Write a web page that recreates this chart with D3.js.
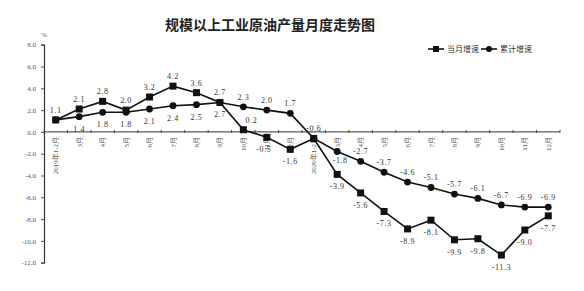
<!DOCTYPE html>
<html>
<head>
<meta charset="utf-8">
<script src="https://cdn.jsdelivr.net/npm/d3@7"></script>
<style>
  body { margin: 0; background: #fff; }
  svg { display: block; }
  text { font-family: "Liberation Serif", "Noto Sans CJK SC", serif; fill: #333; }
</style>
</head>
<body>
<div id="chart"></div>
<script>
// Data
const categories = ["2019年1-2月", "3月", "4月", "5月", "6月", "7月", "8月", "9月", "10月", "11月", "12月",
    "2020年1-2月", "3月", "4月", "5月", "6月", "7月", "8月", "9月", "10月", "11月", "12月"]
const monthly = [1.1, 2.1, 2.8, 2.0, 3.2, 4.2, 3.6, 2.7, 0.2, -0.5, -1.6,
    -0.6, -3.9, -5.6, -7.3, -8.9, -8.1, -9.9, -9.8, -11.3, -9.0, -7.7]
const cumulative = [1.1, 1.4, 1.8, 1.8, 2.1, 2.4, 2.5, 2.7, 2.3, 2.0, 1.7,
    -0.6, -1.8, -2.7, -3.7, -4.6, -5.1, -5.7, -6.1, -6.7, -6.9, -6.9]
const yTicks = [8, 6, 4, 2, 0, -2, -4, -6, -8, -10, -12]
const seriesNames = ["当月增速", "累计增速"]

const width = 584, height = 291
const svg = d3.select("#chart").append("svg")
    .attr("width", width)
    .attr("height", height)

// Scales
const xScale = d3.scaleBand()
    .domain(d3.range(categories.length))
    .range([44, 560])
const cx = i => xScale(i) + xScale.bandwidth() / 2

const yScale = d3.scaleLinear()
    .domain([-12, 8])
    .range([262.7, 44.7])

// Title
svg.append("text")
    .attr("x", 270)
    .attr("y", 30)
    .attr("text-anchor", "middle")
    .style("font-family", "'Noto Sans CJK SC', sans-serif")
    .style("font-weight", 700)
    .style("font-size", "14px")
    .style("fill", "#222")
    .text("规模以上工业原油产量月度走势图")

// Y axis
const yAxis = svg.append("g")
    .attr("transform", "translate(44,0)")
    .call(d3.axisLeft(yScale).tickValues(yTicks).tickSize(3).tickFormat(d3.format(".1f")))
yAxis.select(".domain").attr("stroke", "#333").attr("stroke-width", 1.2)
yAxis.selectAll(".tick line").attr("stroke", "#555")
yAxis.selectAll(".tick text")
    .attr("x", -8)
    .style("font-size", "7px")
    .style("fill", "#555")
    .text(d => d3.format(".1f")(d).replace("−", "-"))

svg.append("text")
    .attr("x", 44)
    .attr("y", 37)
    .attr("text-anchor", "middle")
    .style("font-size", "7px")
    .style("fill", "#555")
    .text("%")

// X axis on zero line
const y0 = yScale(0)
const xAxis = svg.append("g")
svg.append("line")
    .attr("x1", 44).attr("x2", 560)
    .attr("y1", y0).attr("y2", y0)
    .attr("stroke", "#333")
    .attr("stroke-width", 1)
xAxis.selectAll("line.xtick")
    .data(d3.range(categories.length + 1))
    .join("line")
        .attr("class", "xtick")
        .attr("x1", i => 44 + i * xScale.step())
        .attr("x2", i => 44 + i * xScale.step())
        .attr("y1", y0 - 2)
        .attr("y2", y0 + 1)
        .attr("stroke", "#555")
xAxis.selectAll("text")
    .data(categories)
    .join("text")
        .attr("transform", (d, i) => `translate(${cx(i) + 2.5},${y0 + 5}) rotate(-90)`)
        .attr("text-anchor", "end")
        .style("font-size", "7px")
        .style("fill", "#555")
        .text(d => d)

// Lines
const line = d3.line()
    .x((d, i) => cx(i))
    .y(d => yScale(d))

svg.append("path")
    .datum(monthly)
    .attr("fill", "none")
    .attr("stroke", "#111")
    .attr("stroke-width", 1.6)
    .attr("d", line)
svg.append("path")
    .datum(cumulative)
    .attr("fill", "none")
    .attr("stroke", "#111")
    .attr("stroke-width", 1.6)
    .attr("d", line)

// Markers
const sq = 7
svg.selectAll("rect.m")
    .data(monthly)
    .join("rect")
        .attr("class", "m")
        .attr("x", (d, i) => cx(i) - sq / 2)
        .attr("y", d => yScale(d) - sq / 2)
        .attr("width", sq)
        .attr("height", sq)
        .attr("fill", "#111")
svg.selectAll("circle.c")
    .data(cumulative)
    .join("circle")
        .attr("class", "c")
        .attr("cx", (d, i) => cx(i))
        .attr("cy", d => yScale(d))
        .attr("r", 3.4)
        .attr("fill", "#111")

// Data labels: put each label on the side away from the other series
const flipMonthly = new Set([8])
const flipCumulative = new Set([12])
const fmt = d3.format(".1f")
const labelStyle = sel => sel
    .attr("text-anchor", "middle")
    .style("font-size", "8px")
    .style("letter-spacing", "0.6px")
    .style("fill", "#333")

monthly.forEach((v, i) => {
    let above = v >= cumulative[i]
    if (flipMonthly.has(i)) above = !above
    svg.append("text")
        .attr("x", cx(i) + (i === 8 ? 8 : 0) + (i === 9 ? -3 : 0))
        .attr("y", yScale(v) + (above ? -7 : 15))
        .call(labelStyle)
        .text(fmt(v).replace("−", "-"))
})
cumulative.forEach((v, i) => {
    if (v === monthly[i] && i !== 7) return
    let above = v > monthly[i]
    if (flipCumulative.has(i)) above = !above
    svg.append("text")
        .attr("x", cx(i) + (flipCumulative.has(i) ? 3 : 0))
        .attr("y", yScale(v) + (above ? -7 : (flipCumulative.has(i) ? 11 : 15)))
        .call(labelStyle)
        .text(fmt(v).replace("−", "-"))
})

// Legend
const legend = svg.append("g").attr("transform", "translate(428,49)")
seriesNames.forEach((name, k) => {
    const g = legend.append("g").attr("transform", `translate(${k * 53},0)`)
    g.append("line")
        .attr("x1", 0).attr("x2", 16)
        .attr("stroke", "#111")
        .attr("stroke-width", 1.6)
    if (k === 0) {
        g.append("rect").attr("x", 5).attr("y", -3).attr("width", 6).attr("height", 6).attr("fill", "#111")
    } else {
        g.append("circle").attr("cx", 8).attr("r", 3).attr("fill", "#111")
    }
    g.append("text")
        .attr("x", 19)
        .attr("y", 3)
        .style("font-family", "'Noto Sans CJK SC', sans-serif")
        .style("font-size", "8px")
        .style("fill", "#333")
        .text(name)
})
</script>
</body>
</html>
